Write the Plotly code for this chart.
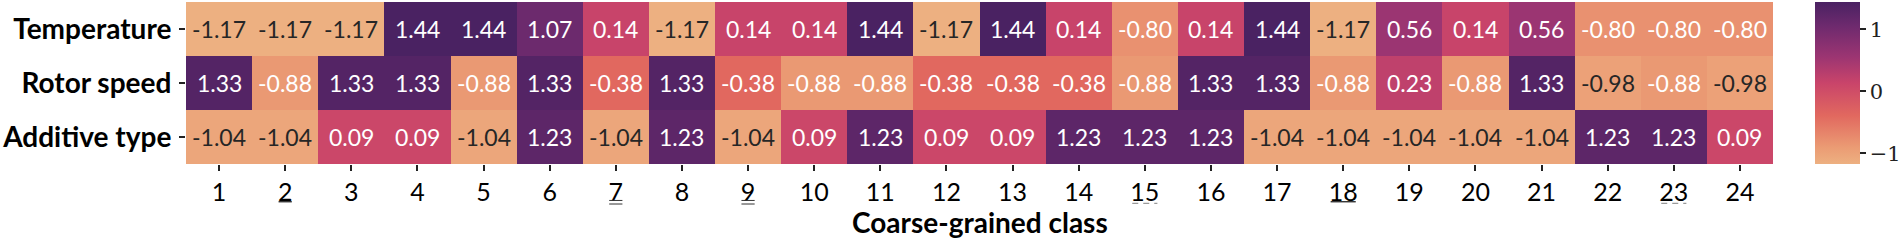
import plotly.graph_objects as go

classes = list(range(1, 25))
rows = ["Temperature", "Rotor speed", "Additive type"]
temperature = [-1.17, -1.17, -1.17, 1.44, 1.44, 1.07, 0.14, -1.17, 0.14, 0.14, 1.44, -1.17,
               1.44, 0.14, -0.80, 0.14, 1.44, -1.17, 0.56, 0.14, 0.56, -0.80, -0.80, -0.80]
rotor_speed = [1.33, -0.88, 1.33, 1.33, -0.88, 1.33, -0.38, 1.33, -0.38, -0.88, -0.88, -0.38,
               -0.38, -0.38, -0.88, 1.33, 1.33, -0.88, 0.23, -0.88, 1.33, -0.98, -0.88, -0.98]
additive_type = [-1.04, -1.04, 0.09, 0.09, -1.04, 1.23, -1.04, 1.23, -1.04, 0.09, 1.23, 0.09,
                 0.09, 1.23, 1.23, 1.23, -1.04, -1.04, -1.04, -1.04, -1.04, 1.23, 1.23, 0.09]
tick_labels = [str(c) for c in classes]
single_underlined = [2, 18]
double_underlined = [7, 9]
dashed_underlined = [15, 23]
cbar_ticks = [-1, 0, 1]
cbar_ticktext = ["\u22121", "0", "1"]

z = [temperature, rotor_speed, additive_type]

flare_r = [
    [0.00, "#EDB081"],
    [0.10, "#EB9C74"],
    [0.30, "#E1685F"],
    [0.50, "#C9446A"],
    [0.66, "#9C3572"],
    [0.85, "#6E2A6E"],
    [1.00, "#4A2262"],
]

fig = go.Figure()
fig.add_trace(go.Heatmap(
    z=z, x=classes, y=rows,
    colorscale=flare_r, zmin=-1.17, zmax=1.44,
    xgap=0, ygap=0,
    colorbar=dict(
        x=1.0265, xanchor="left", y=0.5, yanchor="middle",
        len=1.0, lenmode="fraction", thickness=45, thicknessmode="pixels",
        outlinewidth=0, tickvals=cbar_ticks, ticktext=cbar_ticktext,
        ticks="outside", ticklen=6, tickwidth=1.5, tickcolor="#222",
        tickfont=dict(family="DejaVu Serif", size=21, color="#222"),
        xpad=0, ypad=0,
    ),
    hoverinfo="skip",
))

annotations = []
for r, series in zip(rows, z):
    for c, v in zip(classes, series):
        annotations.append(dict(
            x=c, y=r, xref="x", yref="y", text=f"{v:.2f}", showarrow=False,
            font=dict(family="Lato", size=23, color="#262626" if v <= -0.95 else "white"),
        ))
annotations.append(dict(
    x=0.5, y=-0.36, xref="paper", yref="paper", yanchor="middle",
    text="<b>Coarse-grained class</b>", showarrow=False,
    font=dict(family="Lato", size=28, color="black"),
))

shapes = []
for c in single_underlined:
    half = 0.1 if c < 10 else 0.19
    shapes.append(dict(type="line", xref="x", yref="paper", x0=c - half, x1=c + half,
                       y0=-0.233, y1=-0.233, line=dict(color="#222", width=1.3)))
for c in double_underlined:
    for yy in (-0.225, -0.247):
        shapes.append(dict(type="line", xref="x", yref="paper", x0=c - 0.1, x1=c + 0.1,
                           y0=yy, y1=yy, line=dict(color="#333", width=1)))
for c in dashed_underlined:
    shapes.append(dict(type="line", xref="x", yref="paper", x0=c - 0.19, x1=c + 0.19,
                       y0=-0.243, y1=-0.243, line=dict(color="#999", width=1.3, dash="6px,5px")))

fig.update_layout(
    width=1903, height=240,
    margin=dict(l=184, r=122, t=2, b=76),
    paper_bgcolor="white", plot_bgcolor="white",
    annotations=annotations, shapes=shapes,
    xaxis=dict(
        tickvals=classes, ticktext=tick_labels, ticks="outside", ticklen=6,
        tickwidth=1.5, tickcolor="#222", showgrid=False, zeroline=False,
        tickfont=dict(family="Lato", size=25, color="black"), range=[0.5, 24.5],
    ),
    yaxis=dict(
        autorange="reversed", ticks="outside", ticklen=6, tickwidth=1.5, tickcolor="#222",
        showgrid=False, zeroline=False,
        tickfont=dict(family="Lato", size=28, color="black", weight="bold"),
        ticklabelstandoff=2,
    ),
)

fig.write_html(
    "out.html",
    config={"displayModeBar": False},
    post_script="document.body.style.margin='0';document.body.style.overflow='hidden';",
)
